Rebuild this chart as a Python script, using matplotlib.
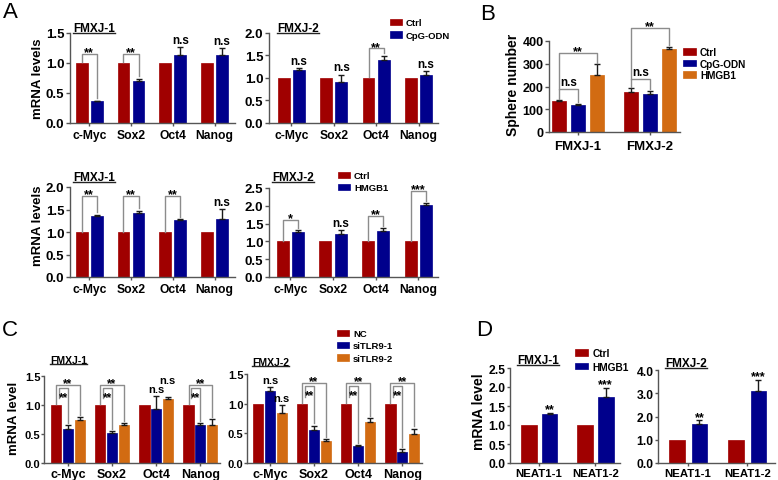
import numpy as np
import matplotlib
matplotlib.use('Agg')
import matplotlib.pyplot as plt
from matplotlib.lines import Line2D

plt.rcParams['font.family'] = ['Liberation Sans', 'DejaVu Sans']
plt.rcParams['font.weight'] = 'bold'

W, H = 778, 481

RED = '#A00000'
BLUE = '#00008C'
ORANGE = '#D26B12'
GREY = '#8c8c8c'
AXC = '#555555'

genes = ['c-Myc', 'Sox2', 'Oct4', 'Nanog']
lines = ['FMXJ-1', 'FMXJ-2']
neat = ['NEAT1-1', 'NEAT1-2']

# A top: CpG-ODN vs Ctrl
a1_ctrl = [1.0, 1.0, 1.0, 1.0]
a1_cpg = [0.36, 0.70, 1.12, 1.13]
a1_cpg_err = [0.01, 0.03, 0.14, 0.11]
a1_sig = ['**', '**', 'n.s', 'n.s']
a1_brk = [1.15, 1.15, None, None]

a2_ctrl = [1.0, 1.0, 1.0, 1.0]
a2_cpg = [1.17, 0.91, 1.39, 1.05]
a2_cpg_err = [0.05, 0.16, 0.09, 0.10]
a2_sig = ['n.s', 'n.s', '**', 'n.s']
a2_brk = [None, None, 1.65, None]

# A bottom: HMGB1 vs Ctrl
a3_ctrl = [1.0, 1.0, 1.0, 1.0]
a3_hmgb1 = [1.36, 1.43, 1.26, 1.30]
a3_hmgb1_err = [0.02, 0.04, 0.02, 0.21]
a3_sig = ['**', '**', '**', 'n.s']
a3_brk = [1.80, 1.80, 1.80, None]

a4_ctrl = [1.0, 1.0, 1.0, 1.0]
a4_hmgb1 = [1.25, 1.22, 1.29, 2.02]
a4_hmgb1_err = [0.06, 0.10, 0.08, 0.05]
a4_sig = ['*', 'n.s', '**', '***']
a4_brk = [1.60, None, 1.72, 2.42]

# B: sphere number
b_ctrl = [138, 178]
b_ctrl_err = [3, 14]
b_cpg = [117, 166]
b_cpg_err = [8, 16]
b_hmgb1 = [250, 363]
b_hmgb1_err = [47, 12]
b_ns_brk = [190, 231]
b_hmgb1_brk = [349, 458]

# C: siTLR9
c1_nc = [1.0, 1.0, 1.0, 1.0]
c1_si1 = [0.59, 0.51, 0.93, 0.65]
c1_si1_err = [0.06, 0.04, 0.22, 0.04]
c1_si2 = [0.75, 0.65, 1.10, 0.66]
c1_si2_err = [0.04, 0.04, 0.04, 0.10]
c1_sig = ['**', '**', 'n.s', '**']
c1_lift = [0, 0, 0.17, 0]

c2_nc = [1.0, 1.0, 1.0, 1.0]
c2_si1 = [1.21, 0.55, 0.28, 0.19]
c2_si1_err = [0.07, 0.08, 0.02, 0.04]
c2_si2 = [0.85, 0.37, 0.69, 0.49]
c2_si2_err = [0.13, 0.03, 0.07, 0.09]
c2_sig = ['n.s', '**', '**', '**']
c2_lift = [0, 0, 0, 0]

c_inner = 1.30
c_outer = 1.35

# D: NEAT1
d1_ctrl = [1.0, 1.0]
d1_hmgb1 = [1.29, 1.73]
d1_hmgb1_err = [0.02, 0.24]
d2_ctrl = [1.0, 1.0]
d2_hmgb1 = [1.66, 3.08]
d2_hmgb1_err = [0.17, 0.50]
d_sig = ['**', '***']

fig = plt.figure(figsize=(W / 100, H / 100), dpi=100)


def px_axes(l, t, r, b):
    return fig.add_axes([l / W, 1 - b / H, (r - l) / W, (b - t) / H])


def px_text(x, y, s, **kw):
    return fig.text(x / W, 1 - y / H, s, **kw)


def style(ax, cats, xlim, ylim, yticks, fmt, xfs, yfs, xpad=2):
    ax.set_xlim(xlim)
    ax.set_ylim(ylim)
    ax.set_yticks(yticks)
    ax.set_yticklabels([fmt.format(v) for v in yticks], fontsize=yfs, fontweight='bold')
    ax.set_xticks(np.arange(len(cats)))
    ax.set_xticklabels(cats, fontsize=xfs, fontweight='bold')
    for s in ['top', 'right']:
        ax.spines[s].set_visible(False)
    for s in ['left', 'bottom']:
        ax.spines[s].set_color(AXC)
        ax.spines[s].set_linewidth(1)
    ax.tick_params(axis='y', length=3, width=1, pad=1, color=AXC)
    ax.tick_params(axis='x', length=2, width=1, pad=xpad, color=AXC)


def bars(ax, series, errs, colors, width, step):
    n = len(series)
    xs, hs = [], []
    for i, (vals, err, c) in enumerate(zip(series, errs, colors)):
        x = np.arange(len(vals)) + (i - (n - 1) / 2) * step
        h = ax.bar(x, vals, width, color=c, edgecolor=c, lw=0.5, zorder=2)
        if err is not None:
            ax.errorbar(x, vals, yerr=[np.zeros(len(vals)), err], fmt='none',
                        ecolor='#1a1a1a', elinewidth=1, capsize=2.2, capthick=1, zorder=3)
        xs.append(x)
        hs.append(h)
    return xs, hs


def label(ax, x, y, text, fs, dy):
    ax.annotate(text, (x, y), xytext=(0, dy), textcoords='offset points',
                ha='center', va='baseline', fontsize=fs, fontweight='bold',
                annotation_clip=False, zorder=5)


def bracket(ax, x1, x2, y, y1, y2, text, fs, dy):
    ax.plot([x1, x1, x2, x2], [y1, y, y, y2], color=GREY, lw=1, clip_on=False, zorder=4)
    label(ax, (x1 + x2) / 2, y, text, fs, dy)


def title(x, y, s, fs):
    return px_text(x, y, s, fontsize=fs, fontweight='bold', ha='left', va='baseline')


def legend(ax, handles, labels, x, y, fs, sp):
    ax.legend(handles, labels, loc='upper left', bbox_to_anchor=(x / W, 1 - y / H),
              bbox_transform=fig.transFigure, frameon=False, borderpad=0,
              borderaxespad=0, handlelength=1.25, handleheight=0.65,
              handletextpad=0.45, labelspacing=sp,
              prop={'size': fs, 'weight': 'bold'})


def panel_a(ax, ctrl, trt, trt_err, sig, brk, xlim, ymax, ystep):
    yt = np.arange(0, ymax + 1e-9, ystep)
    style(ax, genes, xlim, (0, ymax), yt, '{:.1f}', 8.7, 9.5)
    (xc, xt), hs = bars(ax, [ctrl, trt], [None, trt_err], [RED, BLUE], 0.28, 0.36)
    g = 0.015 * ymax
    for i, s in enumerate(sig):
        top = trt[i] + trt_err[i]
        if brk[i] is None:
            label(ax, xt[i], top, s, 8.5 if s == 'n.s' else 9, 3 if s == 'n.s' else 0.5)
        else:
            bracket(ax, xc[i], xt[i], brk[i], ctrl[i] + g * 0.3, top + 2 * g, s, 9, -1)
    return hs


# ---------------- A ----------------
ax1 = px_axes(70, 33.5, 235, 124)
hs = panel_a(ax1, a1_ctrl, a1_cpg, a1_cpg_err, a1_sig, a1_brk, (-0.46, 3.49), 1.5, 0.5)
ax2 = px_axes(269, 33.5, 438, 124)
panel_a(ax2, a2_ctrl, a2_cpg, a2_cpg_err, a2_sig, a2_brk, (-0.53, 3.46), 2.0, 0.5)
legend(ax2, hs, ['Ctrl', 'CpG-ODN'], 390, 19, 6.8, 0.42)

ax3 = px_axes(70, 188, 235, 278)
hs = panel_a(ax3, a3_ctrl, a3_hmgb1, a3_hmgb1_err, a3_sig, a3_brk, (-0.46, 3.49), 2.0, 0.5)
ax4 = px_axes(269, 189, 438, 278)
panel_a(ax4, a4_ctrl, a4_hmgb1, a4_hmgb1_err, a4_sig, a4_brk, (-0.50, 3.46), 2.5, 0.5)
legend(ax4, hs, ['Ctrl', 'HMGB1'], 338, 172, 6.8, 0.35)

titles = [title(73, 32, 'FMXJ-1', 8.5), title(277, 32, 'FMXJ-2', 8.5),
          title(73, 181, 'FMXJ-1', 8.5), title(272, 181, 'FMXJ-2', 8.5)]
px_text(38, 79, 'mRNA levels', fontsize=9.5, rotation=90, ha='center', va='center')
px_text(38, 226, 'mRNA levels', fontsize=9.5, rotation=90, ha='center', va='center')

# ---------------- B ----------------
axb = px_axes(549, 42, 680, 133)
style(axb, lines, (-0.40, 1.42), (0, 400), [0, 100, 200, 300, 400], '{:.0f}', 9.5, 9, xpad=4)
(xc, xp, xh), hs = bars(axb, [b_ctrl, b_cpg, b_hmgb1], [b_ctrl_err, b_cpg_err, b_hmgb1_err],
                        [RED, BLUE, ORANGE], 0.195, 0.265)
for i in range(2):
    bracket(axb, xc[i], xp[i], b_ns_brk[i], b_ctrl[i] + b_ctrl_err[i] + 6,
            b_cpg[i] + b_cpg_err[i] + 8, 'n.s', 8.5, 3)
    bracket(axb, xc[i], xh[i], b_hmgb1_brk[i], b_ns_brk[i],
            b_hmgb1[i] + b_hmgb1_err[i] + 8, '**', 9, -1)
legend(axb, hs, ['Ctrl', 'CpG-ODN', 'HMGB1'], 683, 48, 7.2, 0.16)
px_text(513, 85, 'Sphere number', fontsize=10, rotation=90, ha='center', va='center')


# ---------------- C ----------------
def panel_c(ax, nc, si1, si1_err, si2, si2_err, sig, lift, xlim):
    style(ax, genes, xlim, (0, 1.5), [0, 0.5, 1.0, 1.5], '{:.1f}', 9, 8, xpad=1.5)
    ax.tick_params(axis='y', length=2, pad=0.5)
    (x0, x1, x2), hs = bars(ax, [nc, si1, si2], [None, si1_err, si2_err],
                            [RED, BLUE, ORANGE], 0.23, 0.265)
    for i, s in enumerate(sig):
        t1 = si1[i] + si1_err[i]
        t2 = si2[i] + si2_err[i]
        if s == 'n.s':
            label(ax, x1[i], t1, s, 8, 3)
            label(ax, x2[i], t2 + lift[i], s, 8, 3)
        else:
            bracket(ax, x0[i], x2[i], c_outer, nc[i] + 0.01, t2 + 0.04, s, 8.5, -1)
            bracket(ax, x0[i] + 0.05, x1[i], c_inner, 1.12, t1 + 0.04, s, 8.5, -9)
    return hs


axc1 = px_axes(44, 377, 220, 464)
hs = panel_c(axc1, c1_nc, c1_si1, c1_si1_err, c1_si2, c1_si2_err, c1_sig, c1_lift, (-0.545, 3.45))
axc2 = px_axes(247, 375, 422, 464)
panel_c(axc2, c2_nc, c2_si1, c2_si1_err, c2_si2, c2_si2_err, c2_sig, c2_lift, (-0.52, 3.45))
legend(axc2, hs, ['NC', 'siTLR9-1', 'siTLR9-2'], 337, 330, 6.8, 0.36)
titles += [title(50, 364, 'FMXJ-1', 7.5), title(252, 366, 'FMXJ-2', 7.5)]
px_text(14, 418, 'mRNA level', fontsize=9.5, rotation=90, ha='center', va='center')


# ---------------- D ----------------
def panel_d(ax, ctrl, trt, trt_err, xlim, ymax, ystep, width, step):
    yt = np.arange(0, ymax + 1e-9, ystep)
    style(ax, neat, xlim, (0, ymax), yt, '{:.1f}', 8.2, 8.7, xpad=1.5)
    ax.tick_params(axis='y', length=2.5, pad=0.8)
    (xc, xt), hs = bars(ax, [ctrl, trt], [None, trt_err], [RED, BLUE], width, step)
    for i, s in enumerate(d_sig):
        label(ax, xt[i], trt[i] + trt_err[i], s, 9, 0.5)
    return hs


axd1 = px_axes(510, 369, 620, 464)
hs = panel_d(axd1, d1_ctrl, d1_hmgb1, d1_hmgb1_err, (-0.52, 1.44), 2.5, 0.5, 0.28, 0.37)
axd2 = px_axes(658, 371, 775, 464)
panel_d(axd2, d2_ctrl, d2_hmgb1, d2_hmgb1_err, (-0.51, 1.47), 4.0, 1.0, 0.26, 0.38)
legend(axd1, hs, ['Ctrl', 'HMGB1'], 575, 349, 7.3, 0.36)
titles += [title(517, 364, 'FMXJ-1', 8.5), title(665, 367, 'FMXJ-2', 8.5)]
px_text(479, 412, 'mRNA level', fontsize=10, rotation=90, ha='center', va='center')

# panel letters
for s, x, y in [('A', 3, 2), ('B', 480, 4), ('C', 2, 320), ('D', 476, 320)]:
    px_text(x, y, s, fontsize=16, fontweight='normal', ha='left', va='top')

# underline the cell line titles
fig.canvas.draw()
for t in titles:
    bb = t.get_window_extent()
    fig.add_artist(Line2D([bb.x0 / W, bb.x1 / W], [(bb.y0 + 1.5) / H] * 2,
                          transform=fig.transFigure, color='#222222', lw=1))

fig.savefig('out.png', dpi=100)
